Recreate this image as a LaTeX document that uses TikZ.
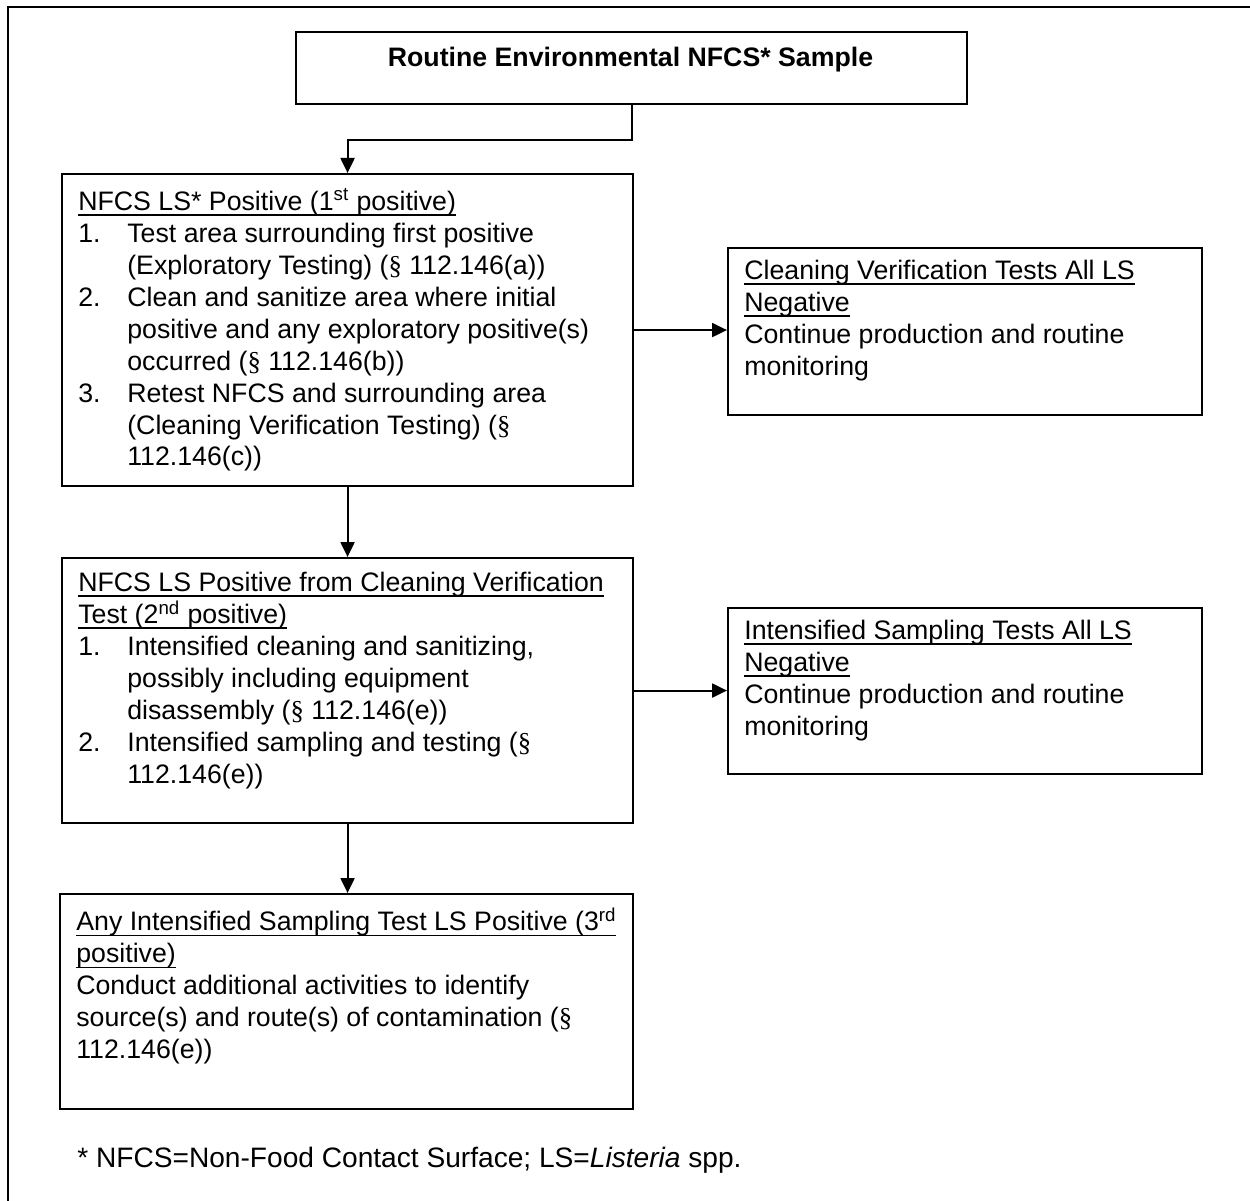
\documentclass[tikz,border=0pt]{standalone}
\usepackage{fontspec}
\setmainfont{Liberation Sans}
\newfontfamily\serifsym{Liberation Serif}
\usetikzlibrary{positioning, arrows.meta}

\newcommand{\secsym}{{\serifsym\S}}
\newcommand{\itemno}[1]{\makebox[0.98cm][l]{#1}}
\newcommand{\indentln}{\hspace*{0.98cm}}
\newcommand{\undl}[1]{\setbox0\hbox{#1}\rlap{\vrule height -2.4pt depth 3.2pt width \wd0}\box0}

\begin{document}
\begin{tikzpicture}[
    every node/.style={font=\fontsize{15.2}{18.2}\selectfont},
    box/.style={draw, line width=1.2pt, inner sep=0pt, anchor=north west},
    txt/.style={anchor=north west, align=left, inner sep=0pt},
    arr/.style={-{Triangle[length=0.3cm, width=0.28cm]}, line width=1.2pt}]

  \useasboundingbox (0,0) rectangle (25,-24.02);
  % outer frame, cut off at right and bottom
  \draw[line width=1.2pt] (25,-0.14) -- (0.16,-0.14) -- (0.16,-24.02);

  \node[box, minimum width=13.42cm, minimum height=1.44cm] (sample) at (5.90,-0.62) {};
  \node[font=\fontsize{15.2}{18.2}\selectfont\bfseries, anchor=base, inner sep=0pt]
    (sampletxt) at (12.61,-1.33) {Routine Environmental NFCS* Sample};

  % left column
  \node[box, minimum width=11.42cm, minimum height=6.24cm] (first) at (1.22,-3.46) {};
  \node[txt] (firsttxt) at (1.56,-3.77) {%
    \undl{NFCS LS* Positive (1\textsuperscript{st} positive)}\\
    \itemno{1.}Test area surrounding first positive\\
    \indentln(Exploratory Testing) (\secsym{} 112.146(a))\\
    \itemno{2.}Clean and sanitize area where initial\\
    \indentln positive and any exploratory positive(s)\\
    \indentln occurred (\secsym{} 112.146(b))\\
    \itemno{3.}Retest NFCS and surrounding area\\
    \indentln(Cleaning Verification Testing) (\secsym\\
    \indentln 112.146(c))};

  \node[box, minimum width=11.42cm, minimum height=5.30cm] (second) at (1.22,-11.14) {};
  \node[txt] (secondtxt) at (1.56,-11.43) {%
    \undl{NFCS LS Positive from Cleaning Verification}\\
    \undl{Test (2\textsuperscript{nd} positive)}\\
    \itemno{1.}Intensified cleaning and sanitizing,\\
    \indentln possibly including equipment\\
    \indentln disassembly (\secsym{} 112.146(e))\\
    \itemno{2.}Intensified sampling and testing (\secsym\\
    \indentln 112.146(e))};

  \node[box, minimum width=11.46cm, minimum height=4.30cm] (third) at (1.18,-17.86) {};
  \node[txt] (thirdtxt) at (1.52,-18.15) {%
    \undl{Any Intensified Sampling Test LS Positive (3\textsuperscript{rd}}\\
    \undl{positive)}\\
    Conduct additional activities to identify\\
    source(s) and route(s) of contamination (\secsym\\
    112.146(e))};

  % right column
  \node[box, minimum width=9.48cm, minimum height=3.34cm] (cleanneg) at (14.54,-4.94) {};
  \node[txt] (cleannegtxt) at (14.88,-5.19) {%
    \undl{Cleaning Verification Tests All LS}\\
    \undl{Negative}\\
    Continue production and routine\\
    monitoring};

  \node[box, minimum width=9.48cm, minimum height=3.32cm] (intneg) at (14.54,-12.14) {};
  \node[txt] (intnegtxt) at (14.88,-12.39) {%
    \undl{Intensified Sampling Tests All LS}\\
    \undl{Negative}\\
    Continue production and routine\\
    monitoring};

  \node[font=\fontsize{16}{19}\selectfont, anchor=base west, inner sep=0pt] (note) at (1.54,-23.35)
    {* NFCS=Non-Food Contact Surface; LS=\textit{Listeria} spp.};

  \draw[arr] (sample.south) -- ++(0,-0.70) -| (first.north);
  \draw[arr] (first.east) -- (first.east -| cleanneg.west);
  \draw[arr] (first.south) -- (second.north);
  \draw[arr] (second.east) -- (second.east -| intneg.west);
  \draw[arr] (second.south) -- (second.south |- third.north);
\end{tikzpicture}
\end{document}
